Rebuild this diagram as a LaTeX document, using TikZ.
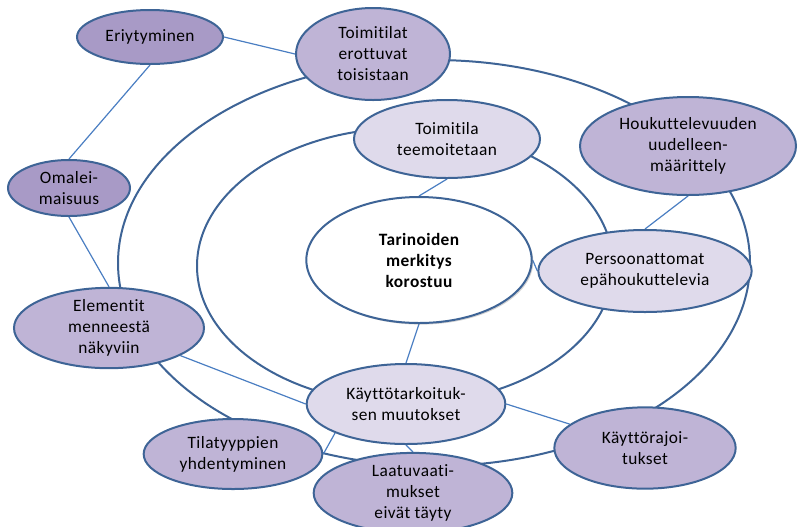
\documentclass[tikz,border=0pt]{standalone}
\usepackage{fontspec}
\setmainfont{Carlito}[Ligatures=NoCommon, LetterSpace=2.5]
\usetikzlibrary{shapes.geometric,backgrounds,shadows}
\definecolor{reuna}{RGB}{62,100,150}
\definecolor{viiva}{RGB}{74,126,194}
\definecolor{liila}{RGB}{168,154,198}
\definecolor{liilab}{RGB}{191,180,214}
\definecolor{liilac}{RGB}{223,218,235}
\tikzset{
  kupla/.style={draw=reuna, line width=1.5pt, ellipse, align=center, inner sep=0pt, font=\fontsize{13}{15.75}\selectfont},
  tumma/.style={kupla, fill=liila},
  keski/.style={kupla, fill=liilab},
  vaalea/.style={kupla, fill=liilac},
  kehys/.style={draw=reuna, line width=1.5pt},
  linkki/.style={draw=viiva, line width=0.9pt},
}

\begin{document}
\begin{tikzpicture}[x=0.75pt,y=-0.75pt]
  \useasboundingbox (0,0) rectangle (798,526);
  \clip (0,0) rectangle (798,526);
  % keskus
  \node[kupla, fill=white, font=\fontsize{13}{15.75}\selectfont\bfseries, minimum width=169pt, minimum height=94.5pt,
        drop shadow={opacity=0.35, shadow xshift=1.2pt, shadow yshift=-1.2pt}] (tarina) at (419,260) {Tarinoiden\\merkitys\\korostuu};
  % sisempi kehä
  \node[vaalea, minimum width=139.5pt, minimum height=58.5pt] (teema) at (447,139) {Toimitila\\teemoitetaan};
  \node[vaalea, minimum width=160pt, minimum height=61.5pt] (persoona) at (645,271) {Persoonattomat\\epähoukuttelevia};
  \node[vaalea, minimum width=149pt, minimum height=60pt] (kaytto) at (406,404) {Käyttötarkoituk-\\sen muutokset};
  % ulompi kehä
  \node[keski, minimum width=115.5pt, minimum height=69pt] (erottuvat) at (373,54) {Toimitilat\\erottuvat\\toisistaan};
  \node[keski, minimum width=162pt, minimum height=73.5pt] (houkutus) at (688,146) {Houkuttelevuuden\\uudelleen-\\määrittely};
  \node[keski, minimum width=136pt, minimum height=61pt] (rajoitus) at (645,448) {Käyttörajoi-\\tukset};
  \node[keski, minimum width=149pt, minimum height=60pt] (laatu) at (413,493) {Laatuvaati-\\mukset\\eivät täyty};
  \node[keski, minimum width=134pt, minimum height=52.5pt] (tilatyyppi) at (233,454) {Tilatyyppien\\yhdentyminen};
  \node[keski, minimum width=142.5pt, minimum height=60pt] (elementit) at (109,328) {Elementit\\menneestä\\näkyviin};
  % irralliset
  \node[tumma, minimum width=109.5pt, minimum height=40.5pt] (eriytyminen) at (150,37) {Eriytyminen};
  \node[tumma, minimum width=91.5pt, minimum height=42pt] (omaleima) at (69,188) {Omalei-\\maisuus};

  \begin{scope}[on background layer]
    \draw[kehys] (434,263) ellipse [x radius=316, y radius=203];
    \draw[kehys] (405,266) ellipse [x radius=208, y radius=138];
    \draw[linkki] (eriytyminen.east) -- (erottuvat.west);
    \draw[linkki] (eriytyminen.south) -- (omaleima.north);
    \draw[linkki] (omaleima.south) -- (elementit.north);
    \draw[linkki] (teema.south) -- (tarina.north);
    \draw[linkki] (houkutus.south) -- (persoona.north);
    \draw[linkki] (tarina.east) -- (persoona.west);
    \draw[linkki] (tarina.south) -- (kaytto.north);
    \draw[linkki] (elementit) -- (kaytto.west);
    \draw[linkki] (kaytto.east) -- (rajoitus);
    \draw[linkki] (kaytto.south west) -- (tilatyyppi.east);
    \draw[linkki] (kaytto.south) -- (laatu.north);
  \end{scope}
\end{tikzpicture}
\end{document}
